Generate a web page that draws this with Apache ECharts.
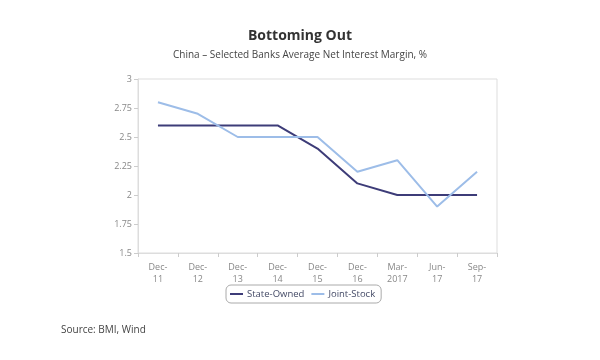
<!DOCTYPE html>
<html><head><meta charset="utf-8">
<script src="https://cdn.jsdelivr.net/npm/echarts@6/dist/echarts.min.js"></script>
<style>html,body{margin:0;padding:0;background:#fff}#c{width:600px;height:360px}</style>
</head><body><div id="c"></div>
<script>
const categories = ["Dec-\n11","Dec-\n12","Dec-\n13","Dec-\n14","Dec-\n15","Dec-\n16","Mar-\n2017","Jun-\n17","Sep-\n17"];
const stateOwned = [2.6, 2.6, 2.6, 2.6, 2.4, 2.1, 2.0, 2.0, 2.0];
const jointStock = [2.8, 2.7, 2.5, 2.5, 2.5, 2.2, 2.3, 1.9, 2.2];
const yTicks = ["1.5","1.75","2","2.25","2.5","2.75","3"];

const chart = echarts.init(document.getElementById('c'), null, {renderer:'canvas'});
const font = '"Open Sans", sans-serif';
chart.setOption({
  animation:false,
  textStyle:{fontFamily:font},
  title:[
    {text:'Bottoming Out', left:'center', top:24, textStyle:{fontSize:14, fontWeight:'bold', color:'#333', fontFamily:font}},
    {text:'China – Selected Banks Average Net Interest Margin, %', left:'center', top:45, textStyle:{fontSize:10, fontWeight:'normal', color:'#444', fontFamily:font}},
    {text:'Source: BMI, Wind', left:56, top:320, textStyle:{fontSize:10, fontWeight:'normal', color:'#444', fontFamily:font}}
  ],
  legend:{
    data:['State-Owned','Joint-Stock'], left:226, top:285,
    borderColor:'#aaa', borderWidth:1, borderRadius:5, padding:[4,6,4,4],
    itemWidth:13, itemHeight:2, itemGap:7, icon:'rect',
    textStyle:{fontSize:9.5, color:'#444a66', fontFamily:font, padding:[0,0,0,-1]}
  },
  grid:{left:138, right:103, top:79, bottom:107, show:true, borderColor:'#ddd', borderWidth:1},
  xAxis:{
    type:'category', data:categories, boundaryGap:true,
    axisLine:{lineStyle:{color:'#ddd'}},
    axisTick:{show:true, lineStyle:{color:'#ccc'}, length:4},
    axisLabel:{fontSize:9, color:'#888', lineHeight:12, margin:8, fontFamily:font}
  },
  yAxis:{
    type:'value', min:1.5, max:3, interval:0.25,
    axisLine:{show:true, lineStyle:{color:'#ddd'}},
    axisTick:{show:true, lineStyle:{color:'#ccc'}, length:4},
    splitLine:{show:false},
    axisLabel:{fontSize:9, color:'#888', margin:6, fontFamily:font,
      formatter:function(v){ const i=Math.round((v-1.5)/0.25); return yTicks[i]; }}
  },
  series:[
    {name:'State-Owned', type:'line', data:stateOwned, symbol:'none', lineStyle:{color:'#3d3c78', width:2}, itemStyle:{color:'#3d3c78'}},
    {name:'Joint-Stock', type:'line', data:jointStock, symbol:'none', lineStyle:{color:'#9dbde8', width:2}, itemStyle:{color:'#9dbde8'}}
  ]
});
</script></body></html>
